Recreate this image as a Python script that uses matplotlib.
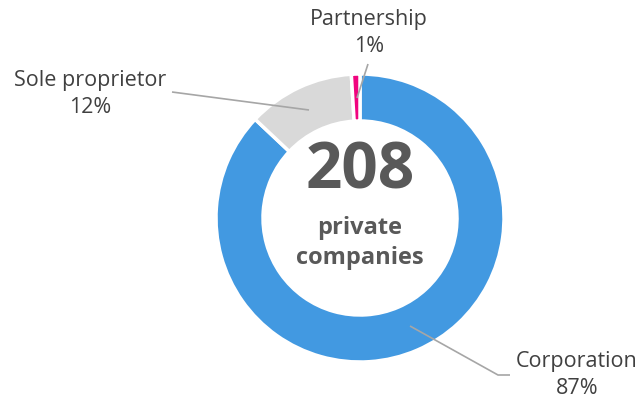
import matplotlib
matplotlib.use("Agg")
import matplotlib.pyplot as plt
import numpy as np

categories = ["Corporation", "Sole proprietor", "Partnership"]
counts = [181, 25, 2]
percent_labels = ["87%", "12%", "1%"]
total_label = "208"
center_caption = "private\ncompanies"
colors = ["#4299E1", "#D9D9D9", "#F0047F"]

W, H = 641, 403
fig = plt.figure(figsize=(W / 100, H / 100), dpi=100)
ax = fig.add_axes([0, 0, 1, 1])

cx, cy = 360, H - 218
R = 144
ring = 47

wedges, _ = ax.pie(counts, colors=colors, startangle=90, counterclock=False,
                   center=(cx, cy), radius=R,
                   wedgeprops=dict(width=ring, edgecolor="white", linewidth=2.5),
                   frame=True)
ax.set_xlim(0, W)
ax.set_ylim(0, H)
ax.set_aspect("equal")
ax.axis("off")

font = "Open Sans"
txt_col = "#404040"
line_col = "#A6A6A6"

ax.text(cx, H - 172, total_label, ha="center", va="center", fontsize=46,
        fontweight="bold", color="#595959", family=font)
ax.text(cx, H - 243, center_caption, ha="center", va="center", fontsize=17,
        fontweight="bold", color="#595959", family=font, linespacing=1.3)

# label positions (pixel coords, top-left origin) and leader lines
label_pos = [(577, 375), (90, 94), (369, 33)]
leaders = [
    [(410, 326), (498, 375), (510, 375)],
    [(172, 92), (309, 110)],
    [(368, 64), (357, 98)],
]
for cat, pct, (lx, ly), pts in zip(categories, percent_labels, label_pos, leaders):
    ax.text(lx, H - ly, f"{cat}\n{pct}", ha="center", va="center", fontsize=15.5,
            color=txt_col, family=font, linespacing=1.32)
    xs = [p[0] for p in pts]
    ys = [H - p[1] for p in pts]
    ax.plot(xs, ys, color=line_col, linewidth=1.2, solid_capstyle="butt")

fig.savefig("out.png", dpi=100)
